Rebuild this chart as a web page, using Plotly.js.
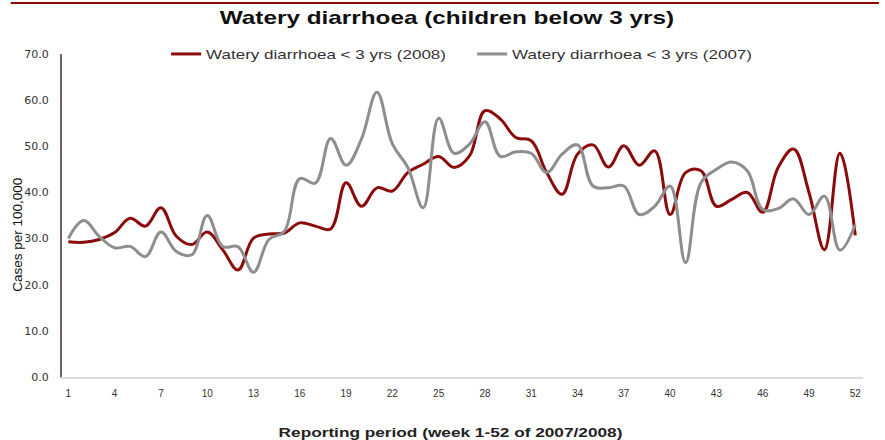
<!DOCTYPE html>
<html>
<head>
<meta charset="utf-8">
<script src="https://cdn.plot.ly/plotly-3.0.1.min.js"></script>
<style>
html,body{margin:0;padding:0;background:#fff;}
#chart{width:885px;height:440px;}
#chart .legend .scrollbox{clip-path:none !important;}
#chart .legendtext{transform:scaleX(1.31);transform-box:fill-box;transform-origin:left center;}
#chart .gtitle{transform:scaleX(1.28);transform-box:fill-box;transform-origin:center;}
#chart .xtitle{transform:translateX(-12px) scaleX(1.38);transform-box:fill-box;transform-origin:center;}
</style>
</head>
<body>
<div id="chart"></div>
<script>
const weeks = Array.from({length: 52}, (_, i) => i + 1);
const tickWeeks = [1,4,7,10,13,16,19,22,25,28,31,34,37,40,43,46,49,52];
const yTicks = [0,10,20,30,40,50,60,70];

const cases2008 = [29.3,29.2,29.8,31.3,34.4,32.7,36.7,30.5,28.7,31.4,27.6,23.2,30.1,31.0,31.2,33.4,
  32.7,32.1,42.1,37.0,41.0,40.3,44.3,46.1,47.8,45.4,47.9,57.7,55.9,51.9,51.2,44.3,39.6,48.3,
  50.3,45.5,50.1,45.9,49.0,35.2,44.3,44.7,37.0,38.5,40.0,35.7,45.4,49.4,40.0,27.6,48.5,30.7];

const cases2007 = [30.0,33.9,30.5,28.0,28.3,26.1,31.4,27.2,26.5,35.0,28.3,28.2,22.7,29.8,31.6,43.0,
  42.0,51.7,45.9,51.6,61.7,50.5,45.4,36.7,56.1,48.5,50.5,55.3,47.8,48.8,48.5,44.3,48.3,50.3,
  41.4,41.0,41.4,35.2,37.0,41.4,24.8,42.1,45.0,46.6,44.7,36.3,36.5,38.6,35.2,39.2,27.5,33.0];

const traces = [
  {x: weeks, y: cases2008, type: 'scatter', mode: 'lines', name: 'Watery diarrhoea < 3 yrs (2008)',
   line: {color: '#8b0a0a', width: 3, shape: 'spline', smoothing: 1.1}},
  {x: weeks, y: cases2007, type: 'scatter', mode: 'lines', name: 'Watery diarrhoea < 3 yrs (2007)',
   line: {color: '#8e8e8e', width: 3, shape: 'spline', smoothing: 1.1}}
];

const layout = {
  width: 885, height: 440,
  margin: {l: 62, r: 22, t: 54, b: 63},
  paper_bgcolor: '#fff', plot_bgcolor: '#fff',
  font: {family: 'Liberation Sans, Arial, sans-serif', color: '#222'},
  title: {text: '<b>Watery diarrhoea (children below 3 yrs)</b>', x: 0.505, xanchor: 'center', y: 0.96, yanchor: 'middle',
          font: {size: 19, color: '#111', family: 'Liberation Sans, Arial, sans-serif'}},
  showlegend: true,
  legend: {orientation: 'h', x: 0.13, xanchor: 'left', y: 1.0, yanchor: 'middle',
           font: {size: 13, color: '#333'}, bgcolor: 'rgba(0,0,0,0)',
           entrywidth: 261, entrywidthmode: 'pixels', tracegroupgap: 0},
  xaxis: {range: [0.59, 52.5], tickmode: 'array', tickvals: tickWeeks, ticktext: tickWeeks.map(String),
          showgrid: false, zeroline: false, showline: true, linecolor: '#dcdcdc', linewidth: 2,
          ticks: '', ticklabelstandoff: 6, tickfont: {size: 10, color: '#333', family: 'Liberation Sans Narrow, Liberation Sans, Arial'},
          title: {text: '<b>Reporting period (week 1-52 of 2007/2008)</b>', standoff: 30, font: {size: 12.5, color: '#222'}}},
  yaxis: {range: [0, 70], tickmode: 'array', tickvals: yTicks, ticktext: yTicks.map(v => v.toFixed(1)),
          showgrid: false, zeroline: false, showline: true, linecolor: '#666', linewidth: 2,
          ticks: '', ticklabelstandoff: 9, tickfont: {size: 11, color: '#333', family: 'DejaVu Sans, sans-serif'}},
  annotations: [
    {text: 'Cases per 100,000', textangle: -90, xref: 'paper', yref: 'paper', x: -0.055, y: 0.44,
     xanchor: 'center', yanchor: 'middle', showarrow: false, font: {size: 13.5, color: '#111'}}
  ],
  shapes: [
    {type: 'line', xref: 'paper', yref: 'paper', x0: -0.064, x1: 1.02, y0: 1.158, y1: 1.158,
     line: {color: '#8b0a0a', width: 2}}
  ]
};

Plotly.newPlot('chart', traces, layout, {displayModeBar: false, staticPlot: true});
</script>
</body>
</html>
